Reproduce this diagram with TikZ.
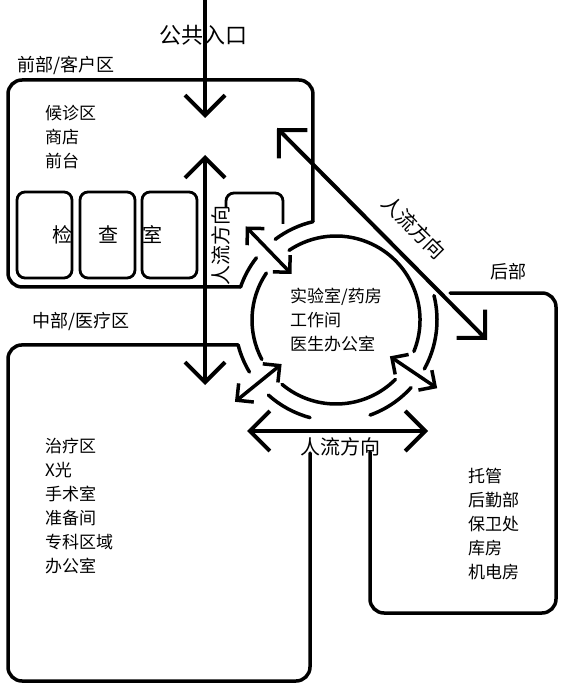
\documentclass[tikz,border=0pt]{standalone}
\usepackage{fontspec}
\setmainfont{Noto Sans CJK SC}
\usetikzlibrary{arrows.meta}

\begin{document}
\begin{tikzpicture}[x=1pt, y=-1pt,
    zone/.style={line width=3.5pt, rounded corners=14pt, line cap=round},
    room/.style={line width=2.8pt, rounded corners=8pt},
    ring/.style={line width=3.5pt, line cap=round},
    bigbarb/.tip={Straight Barb[length=20pt, width=40pt]},
    smallbarb/.tip={Straight Barb[length=12pt, width=24pt]},
    flow/.style={line width=4pt, arrows={bigbarb-bigbarb}},
    door/.style={line width=3.5pt, arrows={smallbarb-smallbarb}},
    tag/.style={inner sep=0pt, font=\fontsize{18}{20}\selectfont},
    flowtxt/.style={inner sep=0pt, font=\fontsize{20}{22}\selectfont},
    list/.style={inner sep=0pt, align=left, anchor=west, font=\fontsize{17}{24}\selectfont}]
  \useasboundingbox (0,0) rectangle (566,692);

  % ---- hub of the plan: two rings round the shared rooms ----
  \coordinate (core) at (336,320);
  \coordinate (frontcorner) at ([shift={(-103.2:101)}]core);
  \coordinate (frontfoot)   at ([shift={(-160.9:101)}]core);
  \coordinate (midhead)     at ([shift={(-194.3:101)}]core);

  \draw[ring] (core) ++(-103.2:101) arc[start angle=-103.2, end angle=-127, radius=101];
  \draw[ring] (core) ++(-142:101)   arc[start angle=-142,   end angle=-160.9, radius=101];
  \draw[ring] (core) ++(-194.3:101) arc[start angle=-194.3, end angle=-211, radius=101];
  \draw[ring] (core) ++(-228:101)   arc[start angle=-228,   end angle=-255.1, radius=101];
  \draw[ring] (core) ++(-289.7:101) arc[start angle=-289.7, end angle=-318, radius=101];
  \draw[ring] (core) ++(-331:101)   arc[start angle=-331,   end angle=-374, radius=101];

  \draw[ring] (core) ++(-146:84) arc[start angle=-146, end angle=-208, radius=84];
  \draw[ring] (core) ++(-230:84) arc[start angle=-230, end angle=-315, radius=84];
  \draw[ring] (core) ++(-338:84) arc[start angle=-338, end angle=-484, radius=84];

  \node[list] (hub) at (290,320) {实验室/药房\\工作间\\医生办公室};

  % ---- the three zones ----
  \draw[zone] (frontcorner) |- (8,80) |- (frontfoot);
  \draw[zone] (midhead) -| (8,681) -| (310,453);
  \draw[zone] (450,293) -| (556,613) -| (370,452);

  \node[tag] (fronttag) at (66,65)   {前部/客户区};
  \node[tag] (midtag)   at (81,322)  {中部/医疗区};
  \node[tag] (backtag)  at (508,272) {后部};

  \node[list] (frontlist) at (45,137) {候诊区\\商店\\前台};
  \node[list] (midlist)   at (45,506) {治疗区\\X光\\手术室\\准备间\\专科区域\\办公室};
  \node[list] (backlist)  at (468,524) {托管\\后勤部\\保卫处\\库房\\机电房};

  % ---- examination rooms ----
  \draw[room] (17,192)  rectangle (72,278);
  \draw[room] (80,192)  rectangle (135,278);
  \draw[room] (142,192) rectangle (197,278);
  \draw[room] (226,207) |- (283,193) -- (283,224);
  \node[flowtxt] (jian) at (62,235)  {检};
  \node[flowtxt] (cha)  at (108,235) {查};
  \node[flowtxt] (shi)  at (152,235) {室};

  % ---- flows of people ----
  \node[inner sep=0pt, font=\fontsize{22}{24}\selectfont] (gatetxt) at (203,35) {公共入口};
  \coordinate (gate)   at (205,0);
  \coordinate (gatein) at (205,118);
  \draw[line width=4pt, -{bigbarb}] (gate) -- (gatein);

  \coordinate (flowtop) at (205,155);
  \coordinate (flowbot) at (205,385);
  \draw[flow] (flowtop) -- (flowbot);
  \node[flowtxt, rotate=90] (flowv) at (221,245) {人流方向};

  \coordinate (reartop) at (277,128);
  \coordinate (rearbot) at (487,340);
  \draw[flow] (reartop) -- (rearbot);
  \node[flowtxt, rotate=-45] (flowd) at (414,227) {人流方向};

  \coordinate (westend) at (247,431);
  \coordinate (eastend) at (428,431);
  \draw[flow] (westend) -- (eastend);
  \node[flowtxt] (flowh) at (340,447) {人流方向};

  % ---- doors through the ring ----
  \coordinate (nwin)  at ([shift={(-134:64)}]core);
  \coordinate (nwout) at ([shift={(-134:130)}]core);
  \coordinate (swin)  at ([shift={(-219:70)}]core);
  \coordinate (swout) at ([shift={(-219:130)}]core);
  \coordinate (sein)  at ([shift={(34:65)}]core);
  \coordinate (seout) at ([shift={(34:122)}]core);
  \draw[door] (nwin) -- (nwout);
  \draw[door] (swin) -- (swout);
  \draw[door] (sein) -- (seout);
\end{tikzpicture}
\end{document}
